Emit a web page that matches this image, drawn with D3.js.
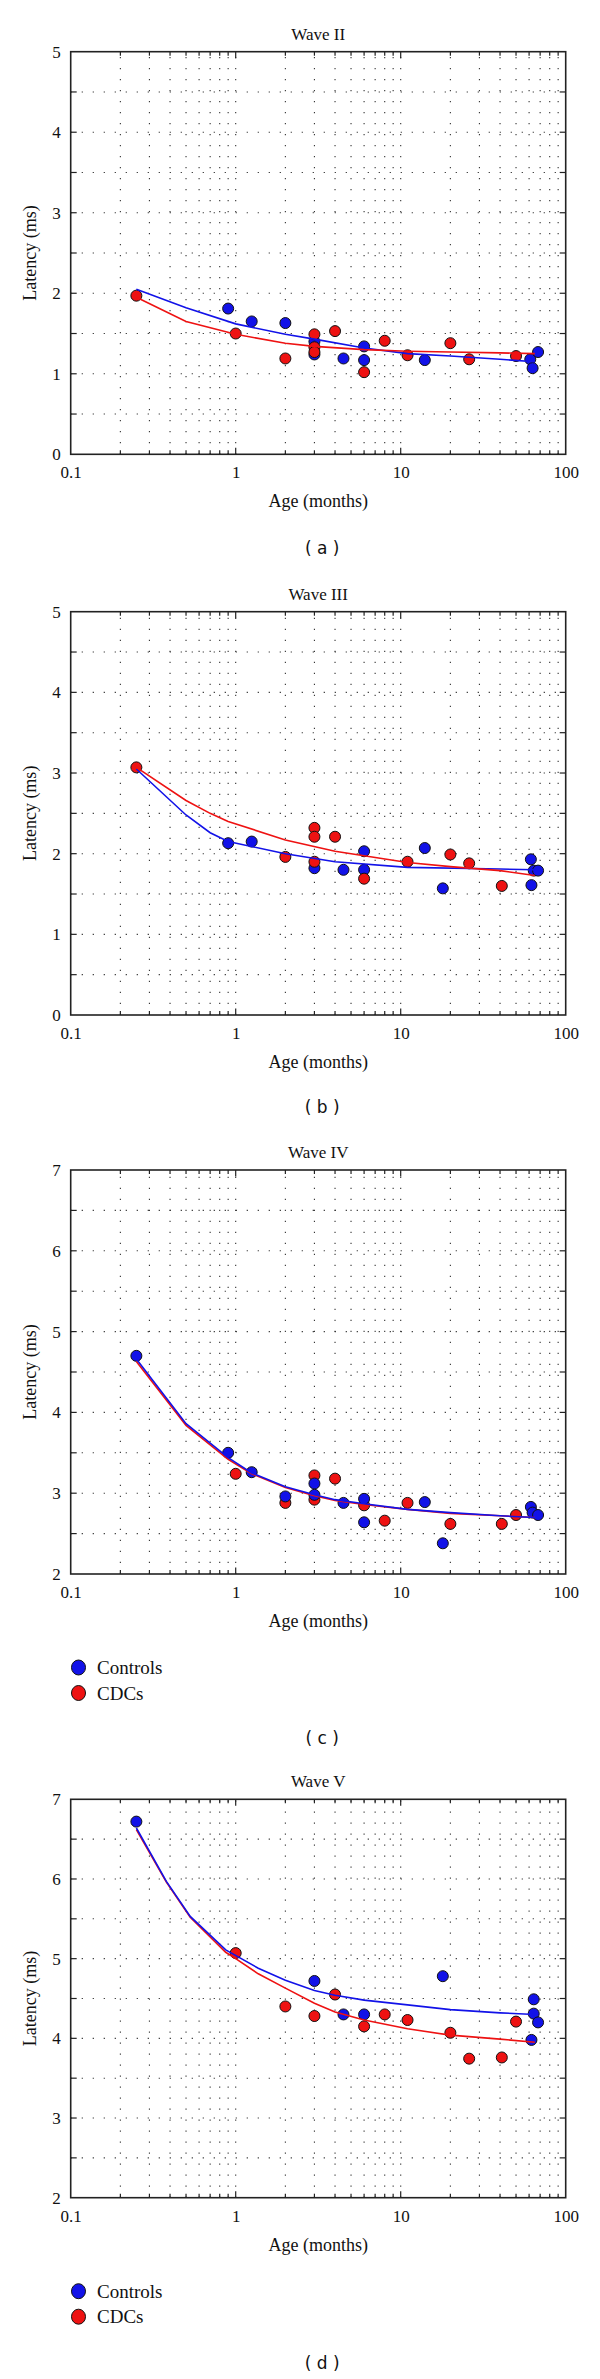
<!DOCTYPE html>
<html><head><meta charset="utf-8">
<script src="https://cdn.jsdelivr.net/npm/d3@7"></script>
<style>body{margin:0;background:#fff}</style>
</head><body>
<svg id="chart" width="600" height="2379"></svg>
<script>
// ---------- data ----------
const xTickValues = [0.1, 1, 10, 100];
const xTickLabels = ["0.1", "1", "10", "100"];
const titles = ["Wave II", "Wave III", "Wave IV", "Wave V"];
const panelLabels = ["( a )", "( b )", "( c )", "( d )"];
const yDomains = [[0, 5], [0, 5], [2, 7], [2, 7]];
const legendNames = ["Controls", "CDCs"];
const xLabel = "Age (months)";
const yLabel = "Latency (ms)";

// Wave II
const w2ControlsPts = [[0.9,1.81],[1.25,1.65],[2,1.63],[3,1.40],[3,1.24],[4.5,1.19],[6,1.34],[6,1.17],[14,1.17],[61,1.18],[63,1.07],[68,1.27]];
const w2CDCsPts = [[0.25,1.97],[1,1.50],[2,1.19],[3,1.49],[3,1.33],[3,1.27],[4,1.53],[6,1.02],[8,1.41],[11,1.23],[20,1.38],[26,1.18],[50,1.22]];
const w2ControlsFit = [[0.25,2.05],[0.5,1.82],[1,1.62],[2,1.49],[3,1.43],[6,1.32],[11,1.25],[20,1.22],[40,1.18],[65,1.15]];
const w2CDCsFit = [[0.25,1.95],[0.5,1.65],[1,1.49],[2,1.38],[3,1.34],[6,1.30],[11,1.28],[20,1.27],[40,1.26],[65,1.25]];

// Wave III
const w3ControlsPts = [[0.9,2.13],[1.25,2.15],[3,1.82],[4.5,1.80],[6,2.03],[6,1.80],[14,2.07],[18,1.57],[61.5,1.93],[62,1.61],[64,1.79],[68,1.79]];
const w3CDCsPts = [[0.25,3.07],[2,1.96],[3,2.32],[3,2.21],[3,1.90],[4,2.21],[6,1.69],[11,1.90],[20,1.99],[26,1.88],[41,1.60]];
const w3ControlsFit = [[0.25,3.05],[0.5,2.48],[0.7,2.26],[0.9,2.15],[2,2.0],[4,1.90],[11,1.83],[40,1.81],[65,1.80]];
const w3CDCsFit = [[0.25,3.07],[0.5,2.66],[0.7,2.50],[0.9,2.40],[2,2.17],[4,2.03],[11,1.89],[20,1.84],[40,1.79],[65,1.73]];

// Wave IV
const w4ControlsPts = [[0.25,4.70],[0.9,3.50],[1.25,3.26],[2,2.96],[3,3.12],[3,2.98],[4.5,2.88],[6,2.93],[6,2.64],[14,2.89],[18,2.38],[61.5,2.83],[63,2.76],[68,2.73]];
const w4CDCsPts = [[1,3.24],[2,2.88],[3,3.22],[3,2.92],[4,3.18],[6,2.85],[8,2.66],[11,2.88],[20,2.62],[41,2.62],[50,2.73]];
const w4ControlsFit = [[0.25,4.66],[0.5,3.86],[0.9,3.44],[1.25,3.25],[2,3.08],[3,2.98],[4,2.92],[6,2.87],[11,2.80],[20,2.76],[40,2.72],[65,2.70]];
const w4CDCsFit = [[0.25,4.63],[0.5,3.84],[0.9,3.42],[1.25,3.24],[2,3.07],[3,2.97],[4,2.91],[6,2.86],[11,2.80],[20,2.75],[40,2.72],[65,2.70]];

// Wave V
const w5ControlsPts = [[0.25,6.72],[3,4.72],[4.5,4.30],[6,4.30],[18,4.78],[64,4.49],[64,4.31],[68,4.20],[62,3.98]];
const w5CDCsPts = [[1,5.07],[2,4.40],[3,4.28],[4,4.55],[6,4.15],[8,4.30],[11,4.23],[20,4.07],[26,3.745],[41,3.76],[50,4.21]];
const w5ControlsFit = [[0.25,6.64],[0.38,5.97],[0.53,5.53],[0.87,5.11],[1.37,4.88],[2,4.73],[3,4.60],[4,4.54],[6,4.48],[11,4.42],[20,4.36],[40,4.32],[65,4.30]];
const w5CDCsFit = [[0.25,6.62],[0.38,5.96],[0.53,5.52],[0.87,5.08],[1,5.0],[1.37,4.81],[2,4.63],[3,4.44],[4,4.33],[6,4.23],[11,4.12],[20,4.04],[40,3.99],[65,3.95]];

// ---------- layout / style ----------
const layout = [
  {top: 51.7, bottom: 454.3, labelDy: 94, legend: false, redOnTop: true},
  {top: 611.7, bottom: 1015, labelDy: 92, legend: false, redOnTop: true},
  {top: 1170, bottom: 1574, labelDy: 164, legend: true, redOnTop: false},
  {top: 1799.3, bottom: 2197.7, labelDy: 165, legend: true, redOnTop: false}
];
const left = 70.7, right = 565.7;
const BLUE = "#1212e8", RED = "#ee1212";
const serif = "'Liberation Serif', 'DejaVu Serif', serif";
const panels = [
  [w2ControlsPts, w2CDCsPts, w2ControlsFit, w2CDCsFit],
  [w3ControlsPts, w3CDCsPts, w3ControlsFit, w3CDCsFit],
  [w4ControlsPts, w4CDCsPts, w4ControlsFit, w4CDCsFit],
  [w5ControlsPts, w5CDCsPts, w5ControlsFit, w5CDCsFit]
];

const svg = d3.select("#chart");

panels.forEach((p, i) => {
  const L = layout[i];
  const x = d3.scaleLog().domain([0.1, 100]).range([left, right]);
  const y = d3.scaleLinear().domain(yDomains[i]).range([L.bottom, L.top]);
  const g = svg.append("g");

  // minor log ticks
  const minor = [];
  [0.1, 1, 10].forEach(d => { for (let k = 2; k <= 9; k++) minor.push(d * k); });
  const gridX = minor.concat([1, 10]);
  const [y0, y1] = yDomains[i];
  const ySteps = d3.range(y0, y1 + 0.001, 0.5);

  // grid
  g.selectAll(".vg").data(gridX).join("line")
    .attr("x1", d => x(d)).attr("x2", d => x(d))
    .attr("y1", L.bottom).attr("y2", L.top)
    .attr("stroke", "#333").attr("stroke-width", 1.1)
    .attr("stroke-dasharray", "1.2 9.8");
  g.selectAll(".hg").data(ySteps.filter(v => v > y0 && v < y1)).join("line")
    .attr("x1", left).attr("x2", right)
    .attr("y1", d => y(d)).attr("y2", d => y(d))
    .attr("stroke", "#333").attr("stroke-width", 1.1)
    .attr("stroke-dasharray", "1.2 9.8");

  // ticks inward
  const tickG = g.append("g").attr("stroke", "#222").attr("stroke-width", 1.2);
  const major = [1, 10];
  [L.bottom, L.top].forEach((yy, s) => {
    const dir = s === 0 ? -1 : 1;
    tickG.selectAll(null).data(minor).join("line")
      .attr("x1", d => x(d)).attr("x2", d => x(d))
      .attr("y1", yy).attr("y2", yy + dir * 4);
    tickG.selectAll(null).data(major).join("line")
      .attr("x1", d => x(d)).attr("x2", d => x(d))
      .attr("y1", yy).attr("y2", yy + dir * 6.5);
  });
  [left, right].forEach((xx, s) => {
    const dir = s === 0 ? 1 : -1;
    tickG.selectAll(null).data(ySteps.filter(v => v > y0 && v < y1)).join("line")
      .attr("x1", xx).attr("x2", xx + dir * 6)
      .attr("y1", d => y(d)).attr("y2", d => y(d));
  });

  // frame
  g.append("rect").attr("x", left).attr("y", L.top)
    .attr("width", right - left).attr("height", L.bottom - L.top)
    .attr("fill", "none").attr("stroke", "#222").attr("stroke-width", 1.6);

  // axes labels via d3 axes (no lines)
  const xAxis = d3.axisBottom(x).tickValues(xTickValues)
    .tickFormat((d, k) => xTickLabels[k]).tickSize(0).tickPadding(12);
  const xa = g.append("g").attr("transform", `translate(0,${L.bottom})`).call(xAxis);
  xa.select(".domain").remove();
  xa.selectAll("text").attr("font-family", serif).attr("font-size", 17).attr("fill", "#111");

  const yAxis = d3.axisLeft(y).tickValues(d3.range(y0, y1 + 0.001, 1))
    .tickFormat(d3.format("d")).tickSize(0).tickPadding(10);
  const ya = g.append("g").attr("transform", `translate(${left},0)`).call(yAxis);
  ya.select(".domain").remove();
  ya.selectAll("text").attr("font-family", serif).attr("font-size", 17).attr("fill", "#111");

  // titles
  const cx = (left + right) / 2;
  g.append("text").attr("x", cx).attr("y", L.top - 12)
    .attr("text-anchor", "middle").attr("font-family", serif).attr("font-size", 17)
    .attr("fill", "#111").text(titles[i]);
  g.append("text").attr("x", cx).attr("y", L.bottom + 53)
    .attr("text-anchor", "middle").attr("font-family", serif).attr("font-size", 18)
    .attr("fill", "#111").text(xLabel);
  g.append("text")
    .attr("transform", `translate(36,${(L.top + L.bottom) / 2}) rotate(-90)`)
    .attr("text-anchor", "middle").attr("font-family", serif).attr("font-size", 18)
    .attr("fill", "#111").text(yLabel);
  g.append("text").attr("x", cx + 4).attr("y", L.bottom + L.labelDy + 6)
    .attr("text-anchor", "middle").attr("font-family", "'DejaVu Sans', sans-serif")
    .attr("font-size", 17).attr("fill", "#111").attr("xml:space", "preserve")
    .text(panelLabels[i]);

  // points
  const drawPts = (data, color) => {
    g.append("g").selectAll("circle").data(data).join("circle")
      .attr("cx", d => x(d[0])).attr("cy", d => y(d[1])).attr("r", 5.5)
      .attr("fill", color).attr("stroke", "#111").attr("stroke-width", 1);
  };
  if (L.redOnTop) { drawPts(p[0], BLUE); drawPts(p[1], RED); }
  else { drawPts(p[1], RED); drawPts(p[0], BLUE); }

  // fitted curves
  const line = d3.line().x(d => x(d[0])).y(d => y(d[1]));
  const drawLine = (data, color) => {
    g.append("path").datum(data).attr("d", line)
      .attr("fill", "none").attr("stroke", color).attr("stroke-width", 1.6);
  };
  if (L.redOnTop) { drawLine(p[2], BLUE); drawLine(p[3], RED); }
  else { drawLine(p[3], RED); drawLine(p[2], BLUE); }

  // legend
  if (L.legend) {
    const lg = g.append("g");
    [BLUE, RED].forEach((c, k) => {
      const ly = L.bottom + 93.5 + k * 25.5;
      lg.append("ellipse").attr("cx", 78.5).attr("cy", ly).attr("rx", 7).attr("ry", 7.5)
        .attr("fill", c).attr("stroke", "#111").attr("stroke-width", 1);
      lg.append("text").attr("x", 97).attr("y", ly + 6.5)
        .attr("font-family", serif).attr("font-size", 19).attr("fill", "#111")
        .text(legendNames[k]);
    });
  }
});
</script>
</body></html>
